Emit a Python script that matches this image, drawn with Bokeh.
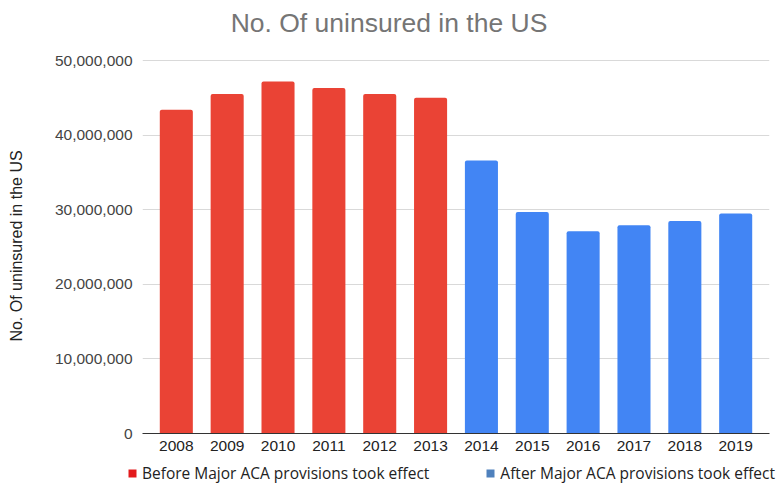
from bokeh.plotting import figure
from bokeh.models import (FactorRange, Range1d, NumeralTickFormatter, Legend, LegendItem,
                          ColumnDataSource, Label)
from bokeh.embed import file_html
from bokeh.resources import INLINE

years = ["2008", "2009", "2010", "2011", "2012", "2013",
         "2014", "2015", "2016", "2017", "2018", "2019"]
uninsured = [43.4e6, 45.5e6, 47.2e6, 46.3e6, 45.5e6, 45.0e6,
             36.6e6, 29.7e6, 27.1e6, 27.9e6, 28.5e6, 29.5e6]
before_years = years[:6]
before_vals = uninsured[:6]
after_years = years[6:]
after_vals = uninsured[6:]
legend_labels = ["Before Major ACA provisions took effect", "After Major ACA provisions took effect"]
title_text = "No. Of uninsured in the US"
y_label = "No. Of uninsured in the US"
y_ticks = [0, 10e6, 20e6, 30e6, 40e6, 50e6]

RED = "#EA4335"
BLUE = "#4285F4"
LEG_RED = "#E31A1C"
LEG_BLUE = "#4F81BD"


def strip(height):
    f = figure(width=777, height=height, x_range=Range1d(0, 777), y_range=Range1d(0, height),
               x_axis_type=None, y_axis_type=None, output_backend="svg",
               toolbar_location=None, min_border=0, min_border_left=0,
               min_border_right=0, min_border_top=0, min_border_bottom=0)
    f.outline_line_color = None
    return f


# title strip
p0 = strip(40)
p0.add_layout(Label(x=388.5, y=18, text=title_text, text_align="center",
                    text_baseline="middle", text_font="Liberation Sans",
                    text_font_size="26.5px", text_color="#757575"))

# main chart
p = figure(width=777, height=418, x_range=FactorRange(*years, range_padding=0.0275),
           y_range=Range1d(0, 50.27e6), output_backend="svg", toolbar_location=None,
           min_border_left=142, min_border_right=8, min_border_top=18, min_border_bottom=25)
p.outline_line_color = None

src_b = ColumnDataSource(dict(x=before_years, y=before_vals))
src_a = ColumnDataSource(dict(x=after_years, y=after_vals))
p.vbar(x="x", top="y", width=0.65, source=src_b, fill_color=RED, line_color=None,
       border_radius=[2, 2, 0, 0])
p.vbar(x="x", top="y", width=0.65, source=src_a, fill_color=BLUE, line_color=None,
       border_radius=[2, 2, 0, 0])

p.yaxis.formatter = NumeralTickFormatter(format="0,0")
p.yaxis.ticker = y_ticks
p.yaxis.axis_line_color = None
p.yaxis.major_tick_line_color = None
p.yaxis.minor_tick_line_color = None
p.yaxis.major_tick_out = 0
p.yaxis.major_tick_in = 0
p.yaxis.major_label_standoff = 10
p.yaxis.major_label_text_font = "Liberation Sans"
p.yaxis.major_label_text_font_size = "15.5px"
p.yaxis.major_label_text_color = "#444444"
p.yaxis.axis_label = y_label
p.yaxis.axis_label_text_font = "Liberation Sans"
p.yaxis.axis_label_text_font_style = "normal"
p.yaxis.axis_label_text_font_size = "16px"
p.yaxis.axis_label_text_color = "#222222"
p.yaxis.axis_label_standoff = 27

p.xaxis.axis_line_color = "#333333"
p.xaxis.major_tick_line_color = None
p.xaxis.minor_tick_line_color = None
p.xaxis.major_tick_out = 0
p.xaxis.major_tick_in = 0
p.xaxis.major_label_standoff = 7
p.xaxis.major_label_text_font = "Liberation Sans"
p.xaxis.major_label_text_font_size = "15.5px"
p.xaxis.major_label_text_color = "#222222"

p.xgrid.grid_line_color = None
p.ygrid.grid_line_color = "#D9D9D9"

# legend strip
p2 = strip(26)
lb = p2.vbar(x=[-10], top=[-10], width=1, fill_color=LEG_RED, line_color=None)
la = p2.vbar(x=[-10], top=[-10], width=1, fill_color=LEG_BLUE, line_color=None)
legend = Legend(items=[LegendItem(label=legend_labels[0], renderers=[lb]),
                       LegendItem(label=legend_labels[1], renderers=[la])],
                orientation="horizontal", location=(127, 0),
                label_text_font="Open Sans", label_text_font_size="15.5px",
                label_text_color="#222222", glyph_width=10, glyph_height=10,
                label_height=16, label_standoff=5, spacing=56, padding=0, margin=0,
                border_line_color=None, background_fill_alpha=0)
p2.add_layout(legend, "center")

open("out.html", "w").write(file_html([p0, p, p2], INLINE))
